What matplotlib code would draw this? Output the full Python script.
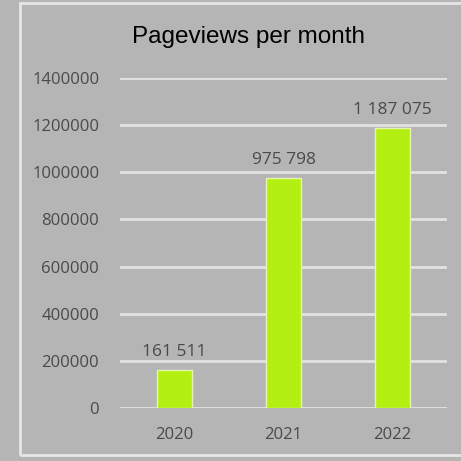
import matplotlib.pyplot as plt
from matplotlib.patches import Rectangle

years = ['2020', '2021', '2022']
views = [161511, 975798, 1187075]
y_ticks = [0, 200000, 400000, 600000, 800000, 1000000, 1200000, 1400000]

bg = '#b5b5b5'
grid_c = '#e2e2e2'
bar_c = '#b3ef10'
text_c = '#4a4a4a'

fig = plt.figure(figsize=(4.61, 4.61), dpi=100, facecolor=bg)
# рамка вокруг диаграммы
fig.patches.append(Rectangle((20 / 461, 6 / 461), 445 / 461, 452 / 461,
                             transform=fig.transFigure, fill=False,
                             edgecolor='#e6e6e6', linewidth=2))

ax = fig.add_axes([120 / 461, 53 / 461, 327 / 461, 330 / 461])
ax.set_facecolor(bg)

x = list(range(len(years)))
bars = ax.bar(x, views, width=0.32, color=bar_c, edgecolor='#e8f5b0',
              linewidth=1, zorder=3)

ax.set_xlim(-0.5, 2.5)
ax.set_ylim(0, 1400000)
ax.set_yticks(y_ticks)
ax.set_yticklabels([str(t) for t in y_ticks])
ax.set_xticks(x)
ax.set_xticklabels(years)
ax.grid(axis='y', color=grid_c, linewidth=2, zorder=1)
ax.set_axisbelow(True)
for s in ax.spines.values():
    s.set_visible(False)
ax.tick_params(length=0, labelsize=12, labelcolor=text_c)
ax.tick_params(axis='y', pad=15)
ax.tick_params(axis='x', pad=14)
for lab in ax.get_xticklabels() + ax.get_yticklabels():
    lab.set_fontfamily('Open Sans')

# подписи значений над столбцами
for xi, v in zip(x, views):
    s = f'{v:,}'.replace(',', ' ')
    ax.annotate(s, (xi, v), xytext=(0, 7), textcoords='offset points',
                ha='center', va='bottom', fontsize=12.5, color=text_c,
                fontfamily='Open Sans')

fig.text(248 / 461, 1 - 37 / 461, 'Pageviews per month', ha='center',
         va='center', fontsize=17.5, color='black', fontfamily='Liberation Sans')

fig.savefig('out.png', dpi=100, facecolor=bg)
